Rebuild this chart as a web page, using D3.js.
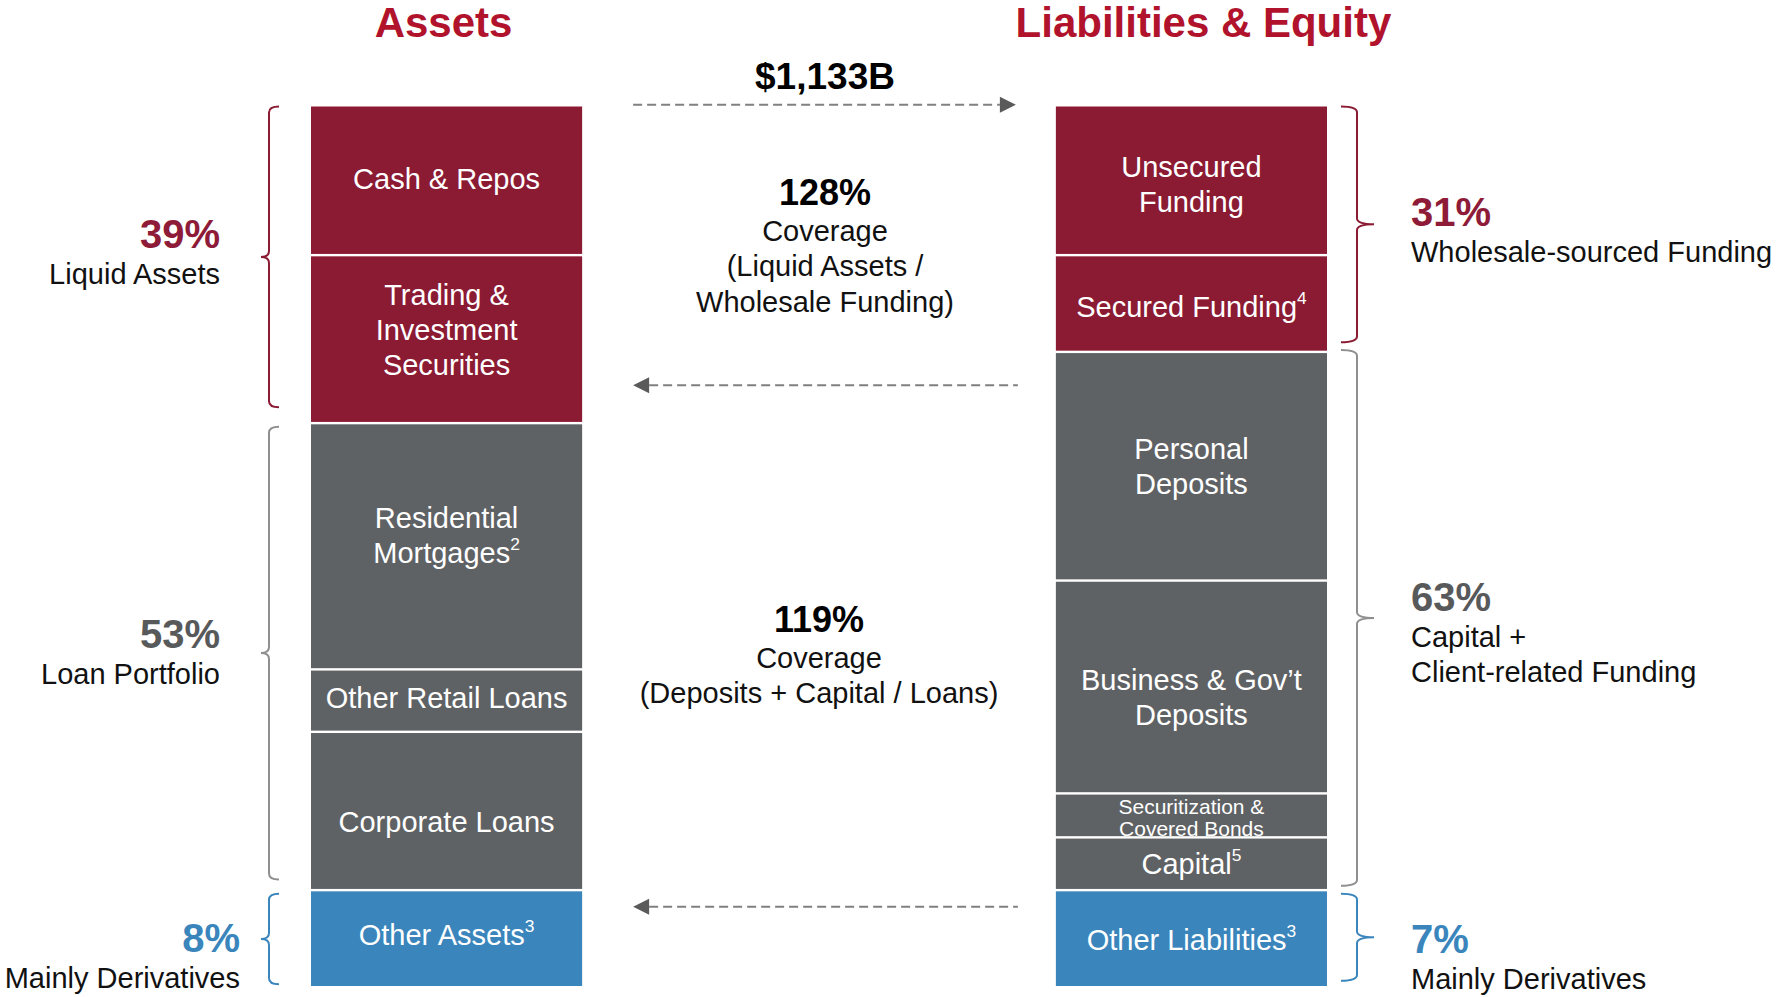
<!DOCTYPE html>
<html>
<head>
<meta charset="utf-8">
<script src="https://cdn.jsdelivr.net/npm/d3@7"></script>
<style>
  html, body { margin: 0; padding: 0; background: #fff; }
  svg { display: block; font-family: 'Liberation Sans', Arial, sans-serif; }
</style>
</head>
<body>
<div id="chart"></div>
<script>
// share of each stacked column (top to bottom)
const columns = ['Assets', 'Liabilities & Equity'];

const assetLabels = ['Cash & Repos', 'Trading &\nInvestment\nSecurities', 'Residential\nMortgages^2', 'Other Retail Loans', 'Corporate Loans', 'Other Assets^3'];
const assetShares = [16.9, 19.1, 28.0, 7.1, 18.0, 10.9];
const assetKinds = ['liquid', 'liquid', 'core', 'core', 'core', 'other'];

const liabilityLabels = ['Unsecured\nFunding', 'Secured Funding^4', 'Personal\nDeposits', 'Business & Gov’t\nDeposits', 'Securitization &\nCovered Bonds', 'Capital^5', 'Other Liabilities^3'];
const liabilityShares = [16.9, 11.0, 26.0, 24.2, 5.0, 6.0, 10.9];
const liabilityKinds = ['liquid', 'liquid', 'core', 'core', 'core', 'core', 'other'];

// brackets beside the columns: [from, to] on the same share axis
const assetBrackets = [[0, 34.2], [36.4, 87.9], [89.5, 99.8]];
const assetBracketPct = ['39%', '53%', '8%'];
const assetBracketText = [['Liquid Assets'], ['Loan Portfolio'], ['Mainly Derivatives']];
const liabilityBrackets = [[0, 26.8], [27.7, 88.6], [89.5, 99.4]];
const liabilityBracketPct = ['31%', '63%', '7%'];
const liabilityBracketText = [['Wholesale-sourced Funding'], ['Capital +', 'Client-related Funding'], ['Mainly Derivatives']];
const bracketKinds = ['liquid', 'core', 'other'];

const totalLabel = '$1,133B';
const coverageRatios = ['128%', '119%'];
const coverageText = [['Coverage', '(Liquid Assets /', 'Wholesale Funding)'], ['Coverage', '(Deposits + Capital / Loans)']];
const arrowLevels = [-0.2, 31.7, 91.0];
const arrowDirs = ['right', 'left', 'left'];

const W = 1777, H = 997;
const barColor = { liquid: '#8b1a33', core: '#5f6265', other: '#3a85bc' };
const pctColor = { liquid: '#8e1b38', core: '#58595b', other: '#3a85bc' };
const braceColor = { liquid: '#8b1a33', core: '#8f8f8f', other: '#3a85bc' };
const font = 29;

const svg = d3.select('#chart').append('svg')
  .attr('width', W)
  .attr('height', H);

const x = d3.scaleBand().domain(columns).range([311, 1327]).paddingInner(0.636);
const y = d3.scaleLinear().domain([0, 100]).range([106.5, 986]);
const bw = x.bandwidth();

function stack(shares, labels, kinds) {
  let acc = 0;
  return shares.map((v, i) => {
    const d = { y0: acc, y1: acc + v, label: labels[i], kind: kinds[i], i: i, n: shares.length };
    acc += v;
    return d;
  });
}

// writes one line of text, "^n" at the end becomes a superscript
function writeLine(g, str, cx, cy, size, color) {
  const parts = str.split('^');
  const t = g.append('text')
    .attr('x', cx)
    .attr('y', cy)
    .attr('text-anchor', 'middle')
    .attr('dominant-baseline', 'central')
    .style('font-size', size + 'px')
    .style('fill', color)
    .text(parts[0]);
  if (parts[1]) {
    t.append('tspan')
      .attr('dy', -size * 0.3)
      .style('font-size', (size * 0.6) + 'px')
      .text(parts[1]);
  }
}

// small vertical nudges so the labels sit where they do in the original
const labelNudge = {
  'Assets': [-2, -9, -11, -3, 11, -3],
  'Liabilities & Equity': [4, 3, 0, 11, 2, 0, 2]
};

function drawColumn(col, segs) {
  const g = svg.append('g');
  const x0 = x(col);
  g.selectAll('rect')
    .data(segs)
    .enter()
    .append('rect')
    .attr('x', x0)
    .attr('width', bw)
    .attr('y', d => y(d.y0) + (d.i > 0 ? 1.2 : 0))
    .attr('height', d => y(d.y1) - y(d.y0) - (d.i > 0 ? 1.2 : 0) - (d.i < d.n - 1 ? 1.2 : 0))
    .style('fill', d => barColor[d.kind]);

  segs.forEach(d => {
    const lines = d.label.split('\n');
    const hPx = y(d.y1) - y(d.y0);
    const small = hPx < 46 && lines.length > 1;
    const size = small ? 21 : font;
    const lh = small ? 22.5 : 35;
    const cy = (y(d.y0) + y(d.y1)) / 2 + labelNudge[col][d.i];
    lines.forEach((line, k) => {
      writeLine(g, line, x0 + bw / 2, cy + (k - (lines.length - 1) / 2) * lh, size, '#fff');
    });
  });
}

drawColumn('Assets', stack(assetShares, assetLabels, assetKinds));
drawColumn('Liabilities & Equity', stack(liabilityShares, liabilityLabels, liabilityKinds));

// column titles
const titleNudge = [-3, 12];
columns.forEach((c, i) => {
  svg.append('text')
    .attr('x', x(c) + bw / 2 + titleNudge[i])
    .attr('y', 37)
    .attr('text-anchor', 'middle')
    .style('font-size', '42px')
    .style('font-weight', 'bold')
    .style('fill', '#b0132b')
    .text(c);
});

// curly brackets
function bracePath(top, bot, xv, xEnd, xTip) {
  const mid = (top + bot) / 2;
  const r = 6;
  return `M${xEnd},${top} Q${xv},${top} ${xv},${top + r} L${xv},${mid - r} Q${xv},${mid} ${xTip},${mid}` +
    ` Q${xv},${mid} ${xv},${mid + r} L${xv},${bot - r} Q${xv},${bot} ${xEnd},${bot}`;
}

function drawBrackets(ranges, pcts, texts, side) {
  const left = side === 'left';
  const edge = left ? x('Assets') : x('Liabilities & Equity') + bw;
  const xv = left ? edge - 42 : edge + 30;
  const xEnd = left ? edge - 32 : edge + 14;
  const xTip = left ? edge - 50 : edge + 47;
  const pctDy = left ? [-9, -5, 13] : [2, -7, 16];
  const textGap = left ? [41, 41, 21] : [37, 37, 37];

  ranges.forEach((rg, i) => {
    const kind = bracketKinds[i];
    const top = y(rg[0]);
    const bot = y(rg[1]);
    const mid = (top + bot) / 2;
    svg.append('path')
      .attr('d', bracePath(top, bot, xv, xEnd, xTip))
      .style('fill', 'none')
      .style('stroke', braceColor[kind])
      .style('stroke-width', 2);

    const tx = left ? xTip - textGap[i] : xTip + textGap[i];
    const anchor = left ? 'end' : 'start';
    const base = mid + pctDy[i];
    svg.append('text')
      .attr('x', tx)
      .attr('y', base)
      .attr('text-anchor', anchor)
      .style('font-size', '40px')
      .style('font-weight', 'bold')
      .style('fill', pctColor[kind])
      .text(pcts[i]);
    texts[i].forEach((line, k) => {
      svg.append('text')
        .attr('x', tx)
        .attr('y', base + 36 + k * 35)
        .attr('text-anchor', anchor)
        .style('font-size', font + 'px')
        .style('fill', '#111')
        .text(line);
    });
  });
}

drawBrackets(assetBrackets, assetBracketPct, assetBracketText, 'left');
drawBrackets(liabilityBrackets, liabilityBracketPct, liabilityBracketText, 'right');

// dashed arrows between the columns
const ax0 = x('Assets') + bw + 51;
const ax1 = x('Liabilities & Equity') - 38;
arrowLevels.forEach((lv, i) => {
  const yy = y(lv);
  const right = arrowDirs[i] === 'right';
  const tip = right ? ax1 - 2 : ax0;
  const base = right ? tip - 16 : tip + 16;
  svg.append('line')
    .attr('x1', right ? ax0 : base)
    .attr('x2', right ? base : ax1)
    .attr('y1', yy)
    .attr('y2', yy)
    .style('stroke', '#808080')
    .style('stroke-width', 2)
    .style('stroke-dasharray', '9,5');
  svg.append('path')
    .attr('d', `M${tip},${yy} L${base},${yy - 8} L${base},${yy + 8} Z`)
    .style('fill', '#5a5a5a');
});

// total and coverage ratios in the middle
const midX = (x('Assets') + bw + x('Liabilities & Equity')) / 2;
svg.append('text')
  .attr('x', midX + 6)
  .attr('y', 89)
  .attr('text-anchor', 'middle')
  .style('font-size', '37px')
  .style('font-weight', 'bold')
  .style('fill', '#000')
  .text(totalLabel);

const coverageTop = [205, 632];
const coverageNudge = [6, 0];
coverageRatios.forEach((r, i) => {
  const cx = midX + coverageNudge[i];
  svg.append('text')
    .attr('x', cx)
    .attr('y', coverageTop[i])
    .attr('text-anchor', 'middle')
    .style('font-size', '36px')
    .style('font-weight', 'bold')
    .style('fill', '#000')
    .text(r);
  coverageText[i].forEach((line, k) => {
    svg.append('text')
      .attr('x', cx)
      .attr('y', coverageTop[i] + 35.5 * (k + 1))
      .attr('text-anchor', 'middle')
      .style('font-size', font + 'px')
      .style('fill', '#111')
      .text(line);
  });
});
</script>
</body>
</html>
